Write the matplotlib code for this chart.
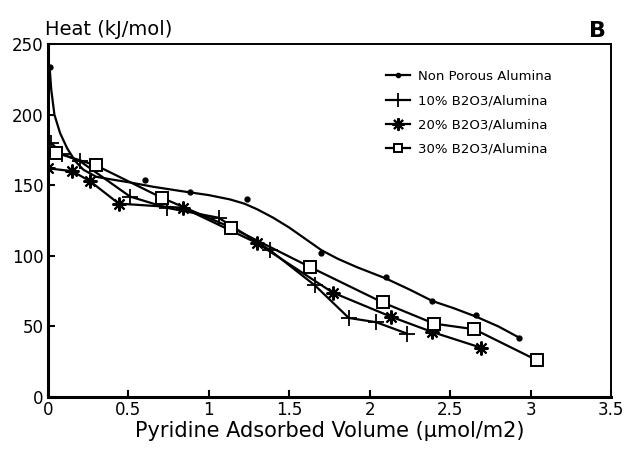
import matplotlib.pyplot as plt
import numpy as np

plt.rcParams['font.family'] = ['DejaVu Sans']

# Non porous alumina: measured points and the smooth curve drawn through them
np_x = [0.01, 0.60, 0.88, 1.24, 1.70, 2.10, 2.39, 2.66, 2.93]
np_y = [234, 154, 145, 140, 102, 85, 68, 58, 42]
np_curve_x = [0.01, 0.02, 0.04, 0.075, 0.12, 0.17, 0.22, 0.30, 0.40, 0.51,
              0.65, 0.82, 1.00, 1.13, 1.22, 1.30, 1.40, 1.50, 1.60, 1.70,
              1.80, 1.92, 2.10, 2.25, 2.39, 2.52, 2.66, 2.80, 2.93]
np_curve_y = [234, 218, 200, 187, 176, 167, 161, 156, 154, 152,
              149, 146, 143, 140, 137, 133, 127, 120, 112, 104,
              98, 92, 84, 76, 68, 63, 57, 50, 42]

# 10% B2O3/Alumina
b10_x = [0.02, 0.09, 0.20, 0.51, 0.74, 1.06, 1.38, 1.66, 1.87, 2.04, 2.23]
b10_y = [180, 172, 167, 142, 134, 127, 104, 79, 56, 53, 45]

# 20% B2O3/Alumina
b20_x = [0.00, 0.15, 0.26, 0.44, 0.84, 1.30, 1.77, 2.13, 2.39, 2.69]
b20_y = [162, 160, 153, 137, 134, 109, 74, 57, 46, 35]

# 30% B2O3/Alumina
b30_x = [0.05, 0.30, 0.71, 1.14, 1.63, 2.08, 2.40, 2.65, 3.04]
b30_y = [173, 164, 141, 120, 92, 67, 52, 48, 26]

labels = ["Non Porous Alumina", "10% B2O3/Alumina",
          "20% B2O3/Alumina", "30% B2O3/Alumina"]

x_ticks = [0, 0.5, 1, 1.5, 2, 2.5, 3, 3.5]
x_tick_labels = ["0", "0.5", "1", "1.5", "2", "2.5", "3", "3.5"]
y_ticks = [0, 50, 100, 150, 200, 250]


def main():
    fig = plt.figure(figsize=(6.28, 4.59), dpi=100)
    ax = fig.add_axes([0.0764, 0.135, 0.8966, 0.769])

    lw = 1.6
    ax.plot(np_curve_x, np_curve_y, color="black", lw=lw)
    ax.plot(np_x, np_y, "o", color="black", ms=3.5, ls="none")
    ax.plot(b10_x, b10_y, color="black", lw=lw, marker="+", ms=11, mew=1.3)
    ax.plot(b20_x, b20_y, color="black", lw=lw, marker=(8, 2, 0), ms=10, mew=1.5)
    ax.plot(b30_x, b30_y, color="black", lw=lw, marker="s", ms=8,
            mfc="white", mew=1.4)

    # legend handles
    h_np = ax.plot([], [], color="black", lw=lw, marker="o", ms=3)[0]
    h_10 = ax.plot([], [], color="black", lw=lw, marker="+", ms=10, mew=1.3)[0]
    h_20 = ax.plot([], [], color="black", lw=lw, marker=(8, 2, 0), ms=9, mew=1.5)[0]
    h_30 = ax.plot([], [], color="black", lw=lw, marker="s", ms=6,
                   mfc="white", mew=1.4)[0]
    ax.legend([h_np, h_10, h_20, h_30], labels, loc="upper left",
              bbox_to_anchor=(0.58, 0.96), frameon=False, fontsize=9.5,
              handlelength=1.8, handletextpad=0.6, labelspacing=0.85)

    ax.set_xlim(0, 3.5)
    ax.set_ylim(0, 250)
    ax.set_xticks(x_ticks)
    ax.set_xticklabels(x_tick_labels)
    ax.set_yticks(y_ticks)
    ax.tick_params(direction="in", length=5, width=1.5, labelsize=12,
                   top=False, right=False, pad=3)
    for side in ["left", "bottom"]:
        ax.spines[side].set_linewidth(2.2)
    for side in ["top", "right"]:
        ax.spines[side].set_linewidth(1.4)

    ax.set_xlabel("Pyridine Adsorbed Volume (µmol/m2)", fontsize=15, labelpad=1)
    fig.text(0.072, 0.915, "Heat (kJ/mol)", fontsize=14, ha="left", va="bottom")
    fig.text(0.965, 0.91, "B", fontsize=16, fontweight="bold",
             ha="right", va="bottom")

    plt.savefig("out.png", dpi=100)


if __name__ == "__main__":
    main()
